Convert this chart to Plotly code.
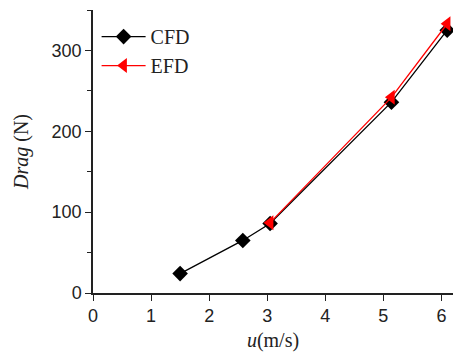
import plotly.graph_objects as go

cfd_u = [1.5, 2.58, 3.05, 5.14, 6.1]
cfd_drag = [24, 65, 86, 236, 325]
efd_u = [3.05, 5.14, 6.1]
efd_drag = [87, 242, 333]

fig = go.Figure()
fig.add_trace(go.Scatter(x=cfd_u, y=cfd_drag, name="CFD", mode="lines+markers",
                         line=dict(color="black", width=1.3),
                         marker=dict(symbol="diamond", size=12, color="black")))
fig.add_trace(go.Scatter(x=efd_u, y=efd_drag, name="EFD", mode="lines+markers",
                         line=dict(color="red", width=1.3),
                         marker=dict(symbol="triangle-left", size=13, color="red")))

fig.update_layout(
    width=453, height=362,
    margin=dict(l=93, r=0, t=10, b=69),
    plot_bgcolor="white", paper_bgcolor="white",
    showlegend=True,
    legend=dict(x=0.01, y=0.975, xanchor="left", yanchor="top",
                font=dict(family="Liberation Serif", size=20, color="#222"),
                bgcolor="rgba(0,0,0,0)", tracegroupgap=0, itemwidth=44),
    xaxis=dict(range=[0, 6.2], dtick=1, tick0=0, showgrid=False, zeroline=False,
               showline=True, linecolor="#222", linewidth=1.5,
               ticks="outside", ticklen=6, tickcolor="#222",
               tickfont=dict(family="Liberation Sans", size=18, color="#222"),
               title=dict(text="<i>u</i>(m/s)", standoff=8,
                          font=dict(family="Liberation Serif", size=20, color="#222"))),
    yaxis=dict(range=[0, 350], dtick=100, tick0=0, showgrid=False, zeroline=False,
               showline=True, linecolor="#222", linewidth=1.5,
               ticks="outside", ticklen=6, tickcolor="#222",
               minor=dict(dtick=50, ticks="outside", ticklen=4, tickcolor="#222"),
               tickfont=dict(family="Liberation Sans", size=18, color="#222"),
               title=dict(text="<i>Drag</i> (N)", standoff=18,
                          font=dict(family="Liberation Serif", size=20, color="#222"))),
)

fig.write_html("out.html")
